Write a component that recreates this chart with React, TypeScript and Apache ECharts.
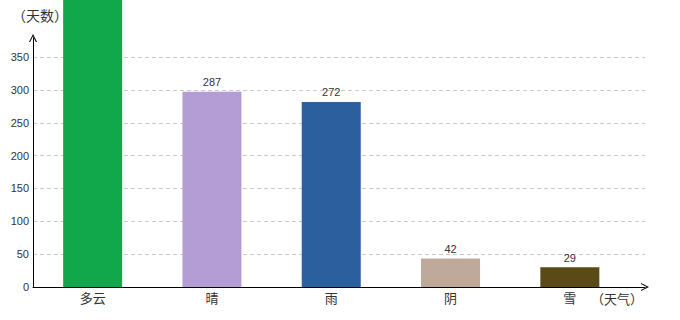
import React, { useEffect, useRef } from "react";
import * as echarts from "echarts";

const categories = ["多云", "晴", "雨", "阴", "雪"];
const days = [450, 287, 272, 42, 29];
const barColors = ["#10a84a", "#b49dd4", "#2b5f9d", "#bea99b", "#5a4a16"];
const yTicks = [0, 50, 100, 150, 200, 250, 300, 350];

const CJK = '"Noto Sans CJK SC", "Noto Sans", sans-serif';
const NUM = '"Liberation Sans", Arial, sans-serif';
const ARROW = "path://M0,10L5,0L10,10L8.6,10L5,2.8L1.4,10Z";

export default function App() {
  const ref = useRef<HTMLDivElement>(null);
  useEffect(() => {
    if (!ref.current) return;
    const chart = echarts.init(ref.current, undefined, { renderer: "svg" });
    chart.setOption({
      animation: false,
      backgroundColor: "#ffffff",
      grid: { left: 33, right: 35, top: 38, bottom: 33, containLabel: false },
      xAxis: {
        type: "value",
        min: -0.5,
        max: 4.63,
        name: "（天气）",
        nameLocation: "end",
        nameGap: 0,
        nameTextStyle: {
          fontFamily: CJK,
          fontSize: 13,
          color: "#333",
          align: "right",
          verticalAlign: "top",
          padding: [5, 2, 0, 0],
        },
        axisLine: {
          show: true,
          onZero: false,
          symbol: ["none", ARROW],
          symbolSize: [8, 8],
          lineStyle: { color: "#000", width: 1 },
        },
        axisTick: { show: false },
        splitLine: { show: false },
        axisLabel: {
          customValues: categories.map((_, i) => i),
          formatter: (v: number) => categories[Math.round(v)] ?? "",
          fontFamily: CJK,
          fontSize: 13,
          color: "#333",
          margin: 4,
        },
      },
      yAxis: [
        {
          type: "value",
          min: 0,
          max: 379,
          interval: 50,
          name: "（天数）",
          nameLocation: "end",
          nameGap: 16,
          nameTextStyle: {
            fontFamily: CJK,
            fontSize: 14,
            color: "#333",
            padding: [0, 0, 0, 14],
          },
          axisLine: {
            show: true,
            onZero: false,
            symbol: ["none", ARROW],
            symbolSize: [8, 8],
            lineStyle: { color: "#000", width: 1 },
          },
          axisTick: { show: false },
          axisLabel: {
            customValues: yTicks,
            fontFamily: NUM,
            fontSize: 11,
            color: "#333",
            margin: 4,
          },
          splitLine: {
            show: true,
            showMaxLine: false,
            lineStyle: { color: "#c8c8c8", type: [4, 3], width: 1 },
          },
        },
        {
          type: "value",
          min: 0,
          max: 366,
          show: false,
          splitLine: { show: false },
        },
      ],
      series: [
        {
          type: "bar",
          xAxisIndex: 0,
          yAxisIndex: 1,
          barWidth: 59,
          clip: false,
          data: days.map((d, i) => ({
            value: [i, d],
            itemStyle: { color: barColors[i] },
            label: { show: i !== 0 },
          })),
          label: {
            show: true,
            position: "top",
            distance: 4,
            fontFamily: NUM,
            fontSize: 11,
            color: "#333",
            formatter: (p: any) => String(p.value[1]),
          },
        },
      ],
    });
    return () => chart.dispose();
  }, []);
  return (
    <div
      ref={ref}
      style={{ position: "fixed", left: 0, top: 0, width: 680, height: 320 }}
    />
  );
}
